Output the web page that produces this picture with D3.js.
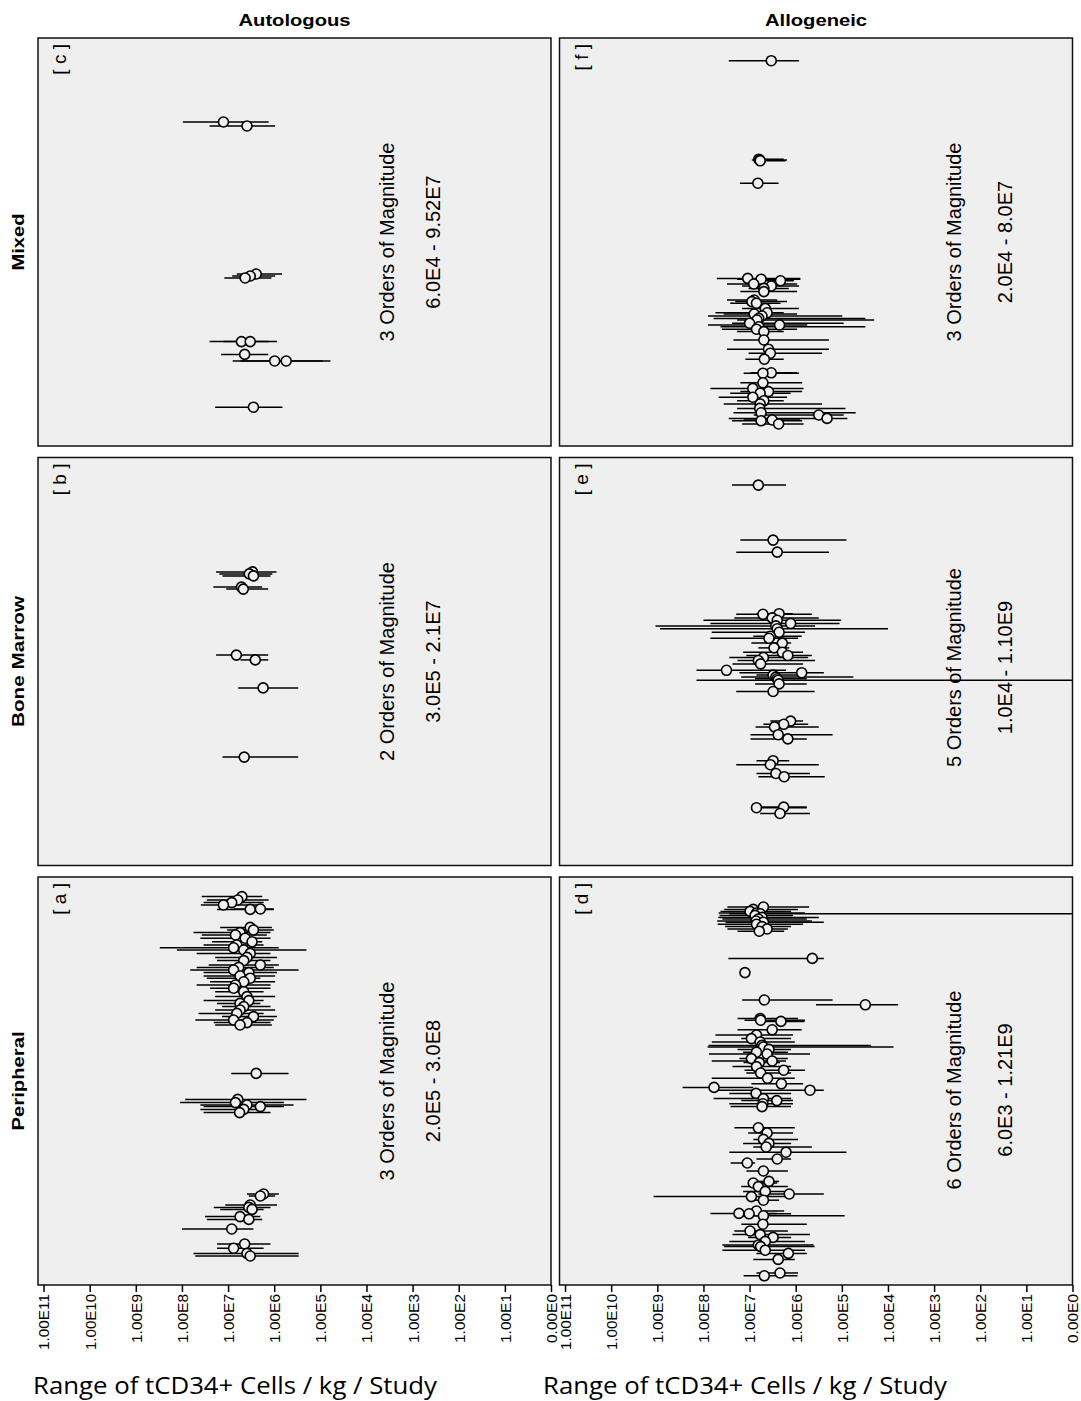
<!DOCTYPE html>
<html>
<head>
<meta charset="utf-8">
<script src="https://cdn.jsdelivr.net/npm/d3@7"></script>
<style>
body { margin: 0; background: #fff; }
svg { display: block; font-family: "Liberation Sans", Arial, sans-serif; }
</style>
</head>
<body>
<script>
// each study: [order slot, log10 estimate, log10 lower bound, log10 upper bound]  (tCD34+ cells / kg)
var autoMixed = [
  [21, 7.10, 6.12, 7.98], [22, 6.59, 5.98, 7.40],
  [59, 6.39, 5.83, 6.81], [59.5, 6.52, 5.98, 6.91], [60, 6.63, 6.06, 7.08],
  [75.9, 6.71, 6.12, 7.40], [75.9, 6.52, 5.94, 7.11], [79.1, 6.64, 6.13, 7.15],
  [80.75, 5.99, 4.78, 6.90], [80.75, 5.74, 4.95, 6.73], [92.3, 6.45, 5.82, 7.28]
];
var autoMarrow = [
  [28.6, 6.47, 5.95, 7.26], [29.1, 6.54, 6.04, 7.19], [29.6, 6.45, 6.08, 7.12],
  [32.4, 6.71, 6.26, 7.32], [32.9, 6.67, 6.13, 7.04], [49.4, 6.82, 6.13, 7.26],
  [50.6, 6.41, 6.13, 6.73], [57.6, 6.24, 5.48, 6.78], [74.9, 6.65, 5.48, 7.12]
];
var autoPeripheral = [
  [4.9, 6.70, 6.26, 7.57], [5.75, 6.79, 6.12, 7.46], [6.4, 6.92, 6.23, 7.53], [7.0, 7.10, 6.23, 7.59],
  [8.1, 6.52, 6.01, 7.24], [8.0, 6.30, 6.01, 6.88], [12.6, 6.52, 6.05, 7.17], [13.25, 6.45, 6.01, 7.02],
  [13.9, 6.74, 6.08, 7.75], [14.5, 6.84, 6.16, 7.57], [15.3, 6.63, 6.08, 7.60], [16.2, 6.48, 6.26, 7.35],
  [17.0, 6.81, 6.23, 7.53], [17.7, 6.88, 5.90, 8.48], [18.25, 6.66, 5.30, 8.11], [19.1, 6.52, 6.08, 7.68],
  [20.1, 6.59, 5.94, 7.28], [20.9, 6.66, 6.08, 7.24], [22.0, 6.30, 5.90, 7.42], [22.6, 6.77, 6.01, 7.68],
  [23.25, 6.88, 5.47, 7.82], [23.9, 6.55, 5.94, 7.53], [24.75, 6.74, 5.98, 7.53], [25.3, 6.52, 6.30, 7.46],
  [26.2, 6.66, 5.98, 7.39], [27.0, 6.84, 6.08, 7.68], [27.8, 6.88, 6.08, 7.39], [28.7, 6.66, 6.23, 7.28],
  [29.9, 6.59, 5.98, 7.28], [30.9, 6.55, 6.23, 7.53], [31.6, 6.74, 6.30, 7.24], [32.4, 6.66, 6.08, 7.13],
  [33.25, 6.74, 5.98, 7.28], [34.1, 6.81, 6.23, 7.64], [34.9, 6.45, 5.94, 7.13], [35.75, 6.88, 6.01, 7.71],
  [36.4, 6.59, 6.08, 7.31], [37.0, 6.74, 6.05, 7.28],
  [49.1, 6.39, 5.69, 6.93], [55.6, 6.79, 5.30, 7.93], [56.4, 6.84, 5.79, 8.04], [57.0, 6.59, 5.58, 7.60],
  [57.4, 6.30, 5.79, 7.53], [58.1, 6.66, 6.30, 7.60], [58.9, 6.75, 6.08, 7.53],
  [79.25, 6.23, 5.90, 6.59], [79.75, 6.30, 5.98, 6.55], [82.0, 6.52, 5.94, 7.06], [82.6, 6.55, 6.08, 7.31],
  [83.1, 6.48, 6.23, 7.17], [84.9, 6.74, 6.30, 7.50], [85.6, 6.55, 6.26, 7.46], [88.0, 6.92, 6.45, 8.00],
  [91.75, 6.64, 6.08, 7.24], [92.8, 6.88, 6.23, 7.24], [94.1, 6.59, 5.47, 7.75], [94.75, 6.52, 5.47, 7.71]
];
var alloMixed = [
  [5.67, 6.53, 5.93, 7.45], [30.3, 6.80, 6.26, 6.87], [30.5, 6.78, 6.19, 6.95], [30.7, 6.77, 6.22, 6.91],
  [36.3, 6.82, 6.37, 7.21],
  [60.1, 7.04, 5.90, 7.71], [60.3, 6.75, 5.90, 7.27], [60.7, 6.33, 6.04, 6.91], [61.5, 6.91, 5.97, 7.49],
  [62.0, 6.53, 5.93, 7.16], [62.6, 6.69, 6.15, 7.02], [63.4, 6.69, 5.97, 7.20], [65.5, 6.90, 6.40, 7.49],
  [65.9, 6.95, 6.19, 7.31], [66.3, 6.85, 6.33, 7.42], [67.6, 6.66, 5.93, 7.16], [68.7, 6.62, 6.26, 7.74],
  [69.0, 6.90, 5.97, 7.56], [69.5, 6.73, 4.99, 7.90], [70.1, 6.80, 4.49, 7.78], [70.5, 6.84, 4.30, 7.27],
  [71.3, 7.00, 4.96, 7.38], [71.75, 6.35, 5.75, 7.90], [72.2, 6.80, 4.49, 7.63], [72.8, 6.85, 5.97, 7.60],
  [73.4, 6.69, 6.26, 7.27], [75.5, 6.69, 5.28, 7.35], [77.8, 6.59, 5.28, 7.49], [78.8, 6.55, 5.43, 7.02],
  [80.3, 6.68, 6.26, 7.09], [83.7, 6.53, 5.97, 6.98], [83.8, 6.71, 5.93, 7.13], [86.2, 6.71, 5.86, 7.20],
  [87.6, 6.93, 5.83, 7.85], [88.4, 6.59, 5.86, 7.20], [88.8, 6.77, 6.11, 7.42], [89.8, 6.93, 6.19, 7.67],
  [90.7, 6.69, 6.26, 7.27], [91.5, 6.77, 5.43, 7.56], [92.6, 6.78, 4.92, 7.27], [93.7, 6.75, 4.70, 7.35],
  [94.25, 5.50, 4.96, 6.91], [95.1, 5.32, 4.88, 7.45], [95.5, 6.51, 5.90, 7.13], [95.7, 6.75, 5.86, 7.38],
  [96.5, 6.37, 5.83, 7.16]
];
var alloMarrow = [
  [6.9, 6.81, 6.21, 7.38], [20.65, 6.49, 4.90, 7.20], [23.66, 6.40, 5.28, 7.29],
  [39.05, 6.36, 6.06, 6.85], [39.2, 6.71, 5.65, 7.29], [40.1, 6.51, 5.50, 7.33], [40.7, 6.40, 5.02, 8.00],
  [41.5, 6.11, 5.05, 7.85], [42.1, 6.43, 5.58, 9.04], [42.8, 6.40, 4.00, 8.94], [43.7, 6.36, 5.80, 7.82],
  [44.7, 6.55, 5.87, 6.92], [45.2, 6.58, 5.95, 7.85], [46.4, 6.29, 6.10, 6.96], [47.6, 6.47, 6.14, 6.81],
  [48.7, 6.29, 5.84, 7.14], [49.5, 6.17, 5.65, 7.07], [50.0, 6.70, 5.73, 7.44], [50.75, 6.81, 5.58, 7.26],
  [51.6, 6.76, 5.84, 7.37], [53.2, 7.50, 6.21, 8.15], [53.8, 5.87, 5.39, 7.22], [54.4, 6.49, 5.80, 6.85],
  [54.9, 6.43, 4.75, 7.18], [55.3, 6.40, 5.76, 6.88], [55.7, 6.38, 0, 8.15], [56.6, 6.36, 5.76, 6.88],
  [58.5, 6.49, 5.59, 7.29],
  [65.9, 6.11, 5.84, 6.55], [66.7, 6.26, 5.73, 6.70], [67.35, 6.46, 5.50, 6.87], [69.3, 6.38, 5.20, 6.98],
  [70.35, 6.17, 5.76, 6.98], [75.8, 6.49, 6.14, 6.85], [76.8, 6.55, 5.50, 7.29], [79.0, 6.43, 5.69, 6.85],
  [79.8, 6.25, 5.37, 6.81], [87.4, 6.26, 5.76, 6.81], [87.55, 6.85, 5.76, 6.96], [89.0, 6.34, 5.69, 6.77]
];
var alloPeripheral = [
  [7.5, 6.70, 5.71, 7.48], [8.1, 6.92, 5.95, 7.55], [8.6, 6.99, 6.10, 7.63], [9.0, 6.85, 5.80, 7.67],
  [9.2, 6.77, 0, 7.44], [9.6, 6.88, 6.06, 7.65], [10.1, 6.73, 5.50, 7.68], [10.5, 6.81, 5.76, 7.59],
  [11.0, 6.86, 5.65, 7.70], [11.3, 6.70, 5.39, 7.52], [11.8, 6.85, 5.84, 7.69], [12.4, 6.73, 6.10, 7.53],
  [13.0, 6.62, 6.17, 7.48], [13.55, 6.79, 6.25, 7.26],
  [20.35, 5.64, 5.39, 7.46], [23.9, 7.10, 7.05, 7.14], [30.75, 6.68, 5.20, 7.16], [31.95, 4.49, 3.78, 5.56],
  [35.4, 6.77, 5.95, 7.26], [35.8, 6.76, 5.80, 7.11], [36.1, 6.32, 5.81, 6.85], [38.2, 6.51, 5.87, 7.26],
  [39.5, 6.85, 6.06, 7.74], [40.4, 6.96, 6.10, 7.18], [41.25, 6.77, 6.02, 7.82], [42.1, 6.73, 4.37, 7.89],
  [42.5, 6.70, 3.88, 7.91], [43.1, 6.58, 6.10, 7.26], [43.8, 6.85, 6.17, 7.14], [44.25, 6.62, 5.69, 7.88],
  [45.4, 6.96, 6.17, 7.22], [46.0, 6.51, 6.21, 7.82], [46.4, 6.79, 6.34, 7.13], [47.4, 6.85, 6.10, 7.37],
  [48.3, 6.26, 5.80, 7.11], [49.0, 6.76, 6.10, 7.07], [50.3, 6.61, 6.02, 7.82], [51.7, 6.31, 5.84, 6.96],
  [52.6, 7.77, 6.92, 8.45], [53.3, 5.69, 5.39, 7.70], [54.1, 6.86, 6.10, 7.44], [55.4, 6.70, 6.10, 7.78],
  [55.9, 6.41, 6.06, 7.18], [56.7, 6.71, 6.06, 7.44], [57.4, 6.73, 6.10, 7.41],
  [62.7, 6.81, 6.02, 7.33], [64.0, 6.62, 6.06, 7.03], [65.6, 6.70, 5.95, 6.92], [66.6, 6.58, 6.10, 7.14],
  [67.5, 6.64, 5.65, 6.92], [68.8, 6.21, 4.90, 7.44], [70.5, 6.40, 6.10, 6.85], [71.5, 7.05, 6.88, 7.41],
  [73.5, 6.70, 6.17, 7.07], [76.1, 6.58, 6.36, 6.99], [76.5, 6.92, 6.40, 7.03], [77.4, 6.81, 6.17, 7.18],
  [78.6, 6.66, 6.10, 7.14], [79.25, 6.14, 5.39, 6.81], [79.9, 6.96, 6.17, 9.08], [80.8, 6.70, 6.36, 6.92],
  [83.5, 6.85, 6.25, 7.07], [84.1, 7.23, 6.40, 7.85], [84.2, 7.01, 6.10, 7.22], [84.7, 6.70, 4.94, 7.14],
  [86.8, 6.71, 5.76, 7.18], [88.5, 6.99, 6.17, 7.33], [89.4, 6.77, 5.69, 7.37], [90.1, 6.49, 6.10, 7.03],
  [91.1, 6.66, 5.80, 7.44], [92.0, 6.81, 5.61, 7.59], [92.4, 6.76, 5.59, 7.55], [93.3, 6.66, 5.80, 7.59],
  [94.1, 6.16, 5.76, 6.85], [95.6, 6.38, 6.02, 6.92], [99.0, 6.34, 5.95, 6.85], [99.7, 6.68, 5.96, 7.13]
];

var columnNames = ["Autologous", "Allogeneic"];
var rowNames = ["Mixed", "Bone Marrow", "Peripheral"];
var panelLetters = [["c", "b", "a"], ["f", "e", "d"]];
var ordersText = [["3 Orders of Magnitude", "2 Orders of Magnitude", "3 Orders of Magnitude"],
                  ["3 Orders of Magnitude", "5 Orders of Magnitude", "6 Orders of Magnitude"]];
var rangeText = [["6.0E4 - 9.52E7", "3.0E5 - 2.1E7", "2.0E5 - 3.0E8"],
                 ["2.0E4 - 8.0E7", "1.0E4 - 1.10E9", "6.0E3 - 1.21E9"]];
var tickExponents = [11, 10, 9, 8, 7, 6, 5, 4, 3, 2, 1, 0];
var axisTitle = "Range of tCD34+ Cells / kg / Study";

var panelData = [[autoMixed, autoMarrow, autoPeripheral], [alloMixed, alloMarrow, alloPeripheral]];

var width = 1081, height = 1401;
var colX = [38, 559.5], rowY = [38, 457.5, 877];
var panelW = 513, panelH = 408;
// text offsets inside panels (left column / right column)
var noteX = [[355.5, 402], [401, 452]];
var noteDy = [[0, 0, 0], [0, 6, 9]];
var titleX = [33, 543];

var svg = d3.select("body").append("svg")
    .attr("width", width)
    .attr("height", height);

svg.append("rect").attr("width", width).attr("height", height).attr("fill", "#fff");

for (var c = 0; c < 2; c++) {
    for (var r = 0; r < 3; r++) {
        drawPanel(c, r);
    }
}

function drawPanel(c, r) {
    var x0 = colX[c], y0 = rowY[r];
    var data = panelData[c][r];

    //values run from high on the left to low on the right
    var x = d3.scaleLog().domain([Math.pow(10, 11.12), 1]).range([x0, x0 + panelW]);
    var y = d3.scaleLinear().domain([0, 102]).range([y0, y0 + panelH]);

    var g = svg.append("g");

    g.append("rect")
        .attr("x", x0).attr("y", y0)
        .attr("width", panelW).attr("height", panelH)
        .attr("fill", "#efefef");

    g.selectAll("line.ci")
        .data(data)
        .enter().append("line")
        .attr("class", "ci")
        .attr("x1", function(d) { return x(Math.pow(10, d[3])); })
        .attr("x2", function(d) { return x(Math.pow(10, d[2])); })
        .attr("y1", function(d) { return y(d[0]); })
        .attr("y2", function(d) { return y(d[0]); })
        .attr("stroke", "#000")
        .attr("stroke-width", 1.5);

    g.selectAll("circle")
        .data(data)
        .enter().append("circle")
        .attr("cx", function(d) { return x(Math.pow(10, d[1])); })
        .attr("cy", function(d) { return y(d[0]); })
        .attr("r", 5)
        .attr("fill", "#efefef")
        .attr("stroke", "#000")
        .attr("stroke-width", 1.6);

    g.append("rect")
        .attr("x", x0).attr("y", y0)
        .attr("width", panelW).attr("height", panelH)
        .attr("fill", "none")
        .attr("stroke", "#111")
        .attr("stroke-width", 1.5);

    g.append("text")
        .attr("transform", "translate(" + (x0 + 28) + "," + (y0 + 6) + ") rotate(-90)")
        .attr("text-anchor", "end")
        .style("font-size", "19px")
        .text("[ " + panelLetters[c][r] + " ]");

    var cy = y0 + panelH / 2 + noteDy[c][r];
    g.append("text")
        .attr("transform", "translate(" + (x0 + noteX[c][0]) + "," + cy + ") rotate(-90)")
        .attr("text-anchor", "middle")
        .style("font-size", "20px")
        .text(ordersText[c][r]);
    g.append("text")
        .attr("transform", "translate(" + (x0 + noteX[c][1]) + "," + cy + ") rotate(-90)")
        .attr("text-anchor", "middle")
        .style("font-size", "20px")
        .text(rangeText[c][r]);

    if (r == 2) {
        var axis = d3.axisBottom(x)
            .tickValues(tickExponents.map(function(e) { return Math.pow(10, e); }))
            .tickSize(7)
            .tickFormat(function(d) {
                var e = Math.round(Math.log10(d));
                return e == 0 ? "0.00E0" : "1.00E" + e;
            });
        var ax = svg.append("g")
            .attr("transform", "translate(0," + (y0 + panelH) + ")")
            .call(axis)
            .attr("font-size", null)
            .attr("font-family", null);
        ax.select(".domain").remove();
        ax.selectAll(".tick line").attr("stroke", "#000").attr("stroke-width", 1.5);
        ax.selectAll(".tick text")
            .attr("transform", "rotate(-90)")
            .attr("text-anchor", "end")
            .attr("x", -9)
            .attr("y", 0)
            .attr("dy", "0.36em")
            .attr("fill", "#000")
            .attr("textLength", function(d) { return Math.round(Math.log10(d)) >= 10 ? 56 : 49; })
            .attr("lengthAdjust", "spacingAndGlyphs")
            .style("font-size", "15px");

        svg.append("text")
            .attr("x", titleX[c])
            .attr("y", 1394)
            .attr("textLength", 404)
            .attr("lengthAdjust", "spacingAndGlyphs")
            .style("font-family", "'Open Sans', 'Noto Sans', sans-serif")
            .style("font-size", "24px")
            .text(axisTitle);
    }
}

// column and row headers (stretched bold labels)
svg.selectAll("text.colname")
    .data(columnNames)
    .enter().append("text")
    .attr("class", "colname")
    .attr("x", function(d, i) { return colX[i] + panelW / 2; })
    .attr("y", 26)
    .attr("text-anchor", "middle")
    .attr("textLength", function(d, i) { return i == 0 ? 112 : 102; })
    .attr("lengthAdjust", "spacingAndGlyphs")
    .style("font-weight", "bold")
    .style("font-size", "17px")
    .text(String);

svg.selectAll("text.rowname")
    .data(rowNames)
    .enter().append("text")
    .attr("class", "rowname")
    .attr("transform", function(d, i) {
        return "translate(24," + (rowY[i] + panelH / 2) + ") rotate(-90)";
    })
    .attr("text-anchor", "middle")
    .attr("textLength", function(d, i) { return [57, 131, 99][i]; })
    .attr("lengthAdjust", "spacingAndGlyphs")
    .style("font-weight", "bold")
    .style("font-size", "17px")
    .text(String);
</script>
</body>
</html>
